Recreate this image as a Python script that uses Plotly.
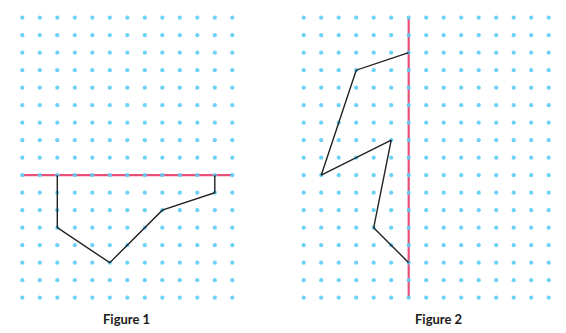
import numpy as np
import plotly.graph_objects as go

# dot paper size (columns x rows) for each figure
fig1_cols, fig1_rows = 13, 17
fig2_cols, fig2_rows = 15, 17

# mirror lines (grid units, row 0 at top)
fig1_mirror_x = [0, 12]
fig1_mirror_y = [9, 9]
fig2_mirror_x = [6, 6]
fig2_mirror_y = [0, 16]

# shapes drawn on the dot paper
fig1_shape_x = [2, 2, 5, 8, 11, 11]
fig1_shape_y = [9, 12, 14, 11, 10, 9]
fig2_shape_x = [6, 3, 1, 5, 4, 6]
fig2_shape_y = [2, 3, 9, 7, 12, 14]

labels = ["Figure 1", "Figure 2"]

# the page body has an 8px margin, so the plot is shrunk to fit the window
PAD = 8
W, H = 566 - PAD, 333 - PAD
STEP = 17.5
DOT = "#5ccdf6"
RED = "#e8507a"
INK = "#222222"

fig = go.Figure()


def add_panel(cols, rows, mx, my, sx, sy, xa, ya):
    gx, gy = np.meshgrid(np.arange(cols), np.arange(rows))
    fig.add_trace(go.Scatter(x=mx, y=my, mode="lines",
                             line=dict(color=RED, width=2.2),
                             xaxis=xa, yaxis=ya, hoverinfo="skip"))
    fig.add_trace(go.Scatter(x=gx.ravel(), y=gy.ravel(), mode="markers",
                             marker=dict(color=DOT, size=4.2, opacity=0.9),
                             xaxis=xa, yaxis=ya, hoverinfo="skip"))
    fig.add_trace(go.Scatter(x=sx, y=sy, mode="lines",
                             line=dict(color=INK, width=1.4),
                             xaxis=xa, yaxis=ya, hoverinfo="skip"))


add_panel(fig1_cols, fig1_rows, fig1_mirror_x, fig1_mirror_y,
          fig1_shape_x, fig1_shape_y, "x", "y")
add_panel(fig2_cols, fig2_rows, fig2_mirror_x, fig2_mirror_y,
          fig2_shape_x, fig2_shape_y, "x2", "y2")

split = 283 - PAD          # pixel where panel 2 starts (within the plot)
x1_off = 22.3 - PAD        # pixel of column 0, panel 1
x2_off = 303.7 - 283       # pixel of column 0 from panel 2 left edge
y_off = 17.7 - PAD         # pixel of row 0
yr = [(H - y_off) / STEP, -y_off / STEP]

ax_common = dict(visible=False, showgrid=False, zeroline=False, fixedrange=True)
fig.update_layout(
    width=W, height=H, autosize=False,
    margin=dict(l=0, r=0, t=0, b=0),
    paper_bgcolor="white", plot_bgcolor="white",
    showlegend=False,
    xaxis=dict(domain=[0, split / W], range=[-x1_off / STEP, (split - x1_off) / STEP], **ax_common),
    yaxis=dict(domain=[0, 1], range=yr, **ax_common),
    xaxis2=dict(domain=[split / W, 1], range=[-x2_off / STEP, (W - split - x2_off) / STEP], **ax_common),
    yaxis2=dict(domain=[0, 1], range=yr, anchor="x2", **ax_common),
)

for xpix, text in zip([126.5, 438.5], labels):
    fig.add_annotation(x=(xpix - PAD) / W, y=1 - (318.5 - PAD) / H, xref="paper", yref="paper",
                       xanchor="center", yanchor="middle",
                       text="<b>" + text + "</b>", showarrow=False,
                       font=dict(family="Lato", size=13, color="#1a1a1a"))

fig.write_html("out.html")
